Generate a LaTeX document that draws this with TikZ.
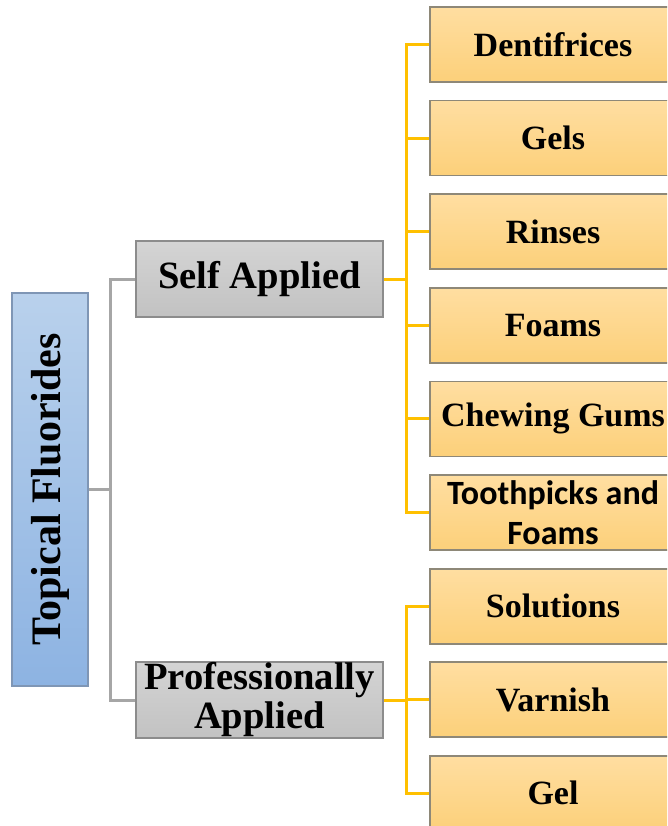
\documentclass[tikz,border=0pt]{standalone}
\usepackage{fontspec}
\setmainfont{Liberation Serif}
\newfontfamily\calib{Carlito}
\definecolor{leaftop}{HTML}{FFDEA1}
\definecolor{leafbot}{HTML}{FCD07A}
\definecolor{leafborder}{HTML}{8E8878}
\definecolor{midtop}{HTML}{D4D4D4}
\definecolor{midbot}{HTML}{C2C2C2}
\definecolor{midborder}{HTML}{8C8C8C}
\definecolor{roottop}{HTML}{B9D1EC}
\definecolor{rootbot}{HTML}{8DB3E2}
\definecolor{rootborder}{HTML}{7F96B5}
\definecolor{yline}{HTML}{FFC000}
\definecolor{gline}{HTML}{A6A6A6}
\begin{document}
\begin{tikzpicture}[x=1pt,y=1pt,
  leaf/.style={draw=leafborder, line width=1.8pt, top color=leaftop, bottom color=leafbot,
    minimum width=246pt, minimum height=75pt, inner sep=0pt, align=center,
    font=\fontsize{34}{40}\selectfont\bfseries},
  mid/.style={draw=midborder, line width=1.8pt, top color=midtop, bottom color=midbot,
    minimum width=247pt, minimum height=76pt, inner sep=0pt, align=center,
    font=\fontsize{38.6}{39}\selectfont\bfseries},
  rootbox/.style={draw=rootborder, line width=1.8pt, top color=roottop, bottom color=rootbot,
    minimum width=393pt, minimum height=76pt, inner sep=0pt, align=center,
    font=\fontsize{42}{46}\selectfont\bfseries},
  yconn/.style={draw=yline, line width=3pt},
  gconn/.style={draw=gline, line width=3pt}]
\useasboundingbox (0,0) rectangle (667,-826);
\clip (0,0) rectangle (667,-826);
% nodes
\node[rootbox, rotate=90] (root) at (50,-489.5) {Topical Fluorides};
\node[mid] (self) at (259.5,-279) {Self Applied};
\node[mid] (prof) at (259.5,-700) {Professionally\\Applied};
\node[leaf] (l1) at (553,-44.5) {Dentifrices};
\node[leaf] (l2) at (553,-138.1) {Gels};
\node[leaf] (l3) at (553,-231.7) {Rinses};
\node[leaf] (l4) at (553,-325.3) {Foams};
\node[leaf] (l5) at (553,-418.9) {Chewing Gums};
\node[leaf, font=\fontsize{34}{40}\selectfont\calib\bfseries] (l6) at (553,-512.5) {Toothpicks and\\Foams};
\node[leaf] (l7) at (553,-606.1) {Solutions};
\node[leaf] (l8) at (553,-699.7) {Varnish};
\node[leaf] (l9) at (553,-793.3) {Gel};
% grey connectors
\coordinate (g) at (110,-489.5);
\draw[gconn] (root.south) -- (g);
\draw[gconn] (self.west) -| (g) |- (prof.west);
% yellow connectors
\coordinate (ys) at (406.5,-279);
\coordinate (yp) at (406.5,-700);
\draw[yconn] (self.east) -- (ys);
\foreach \n in {l1,l2,l3,l4,l5,l6} { \draw[yconn] (ys) |- (\n.west); }
\draw[yconn] (prof.east) -- (yp);
\foreach \n in {l7,l8,l9} { \draw[yconn] (yp) |- (\n.west); }
\end{tikzpicture}
\end{document}
